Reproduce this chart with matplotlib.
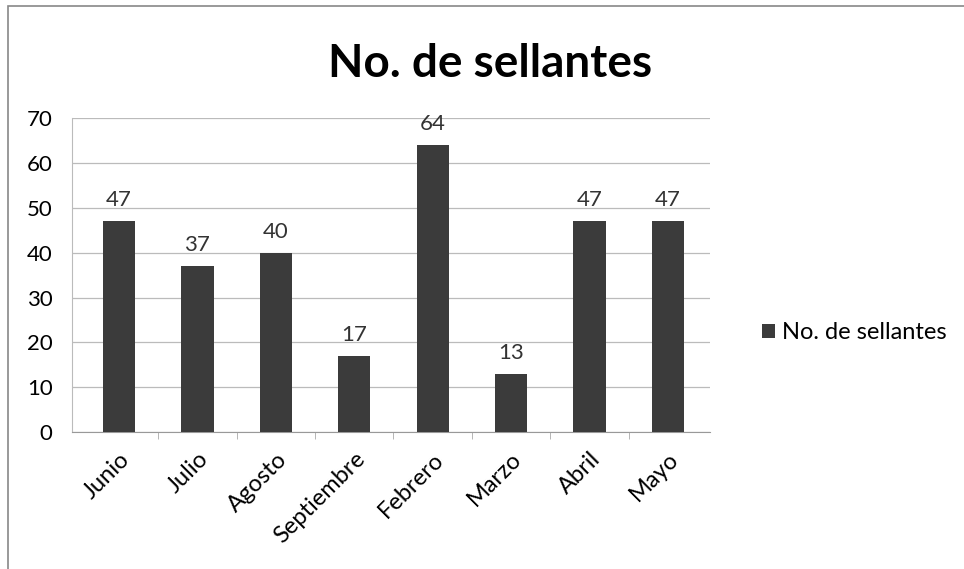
import numpy as np
import matplotlib.pyplot as plt
from matplotlib.patches import Rectangle

meses = ['Junio', 'Julio', 'Agosto', 'Septiembre', 'Febrero', 'Marzo', 'Abril', 'Mayo']
sellantes = [47, 37, 40, 17, 64, 13, 47, 47]
y_ticks = [0, 10, 20, 30, 40, 50, 60, 70]

plt.rcParams['font.family'] = ['Lato', 'DejaVu Sans']

fig = plt.figure(figsize=(9.64, 5.69), dpi=100)
ax = fig.add_axes([0.0747, 0.241, 0.662, 0.551])

x = np.arange(len(meses))
bars = ax.bar(x, sellantes, width=0.41, color='#3b3b3b', label='No. de sellantes', zorder=3)

for xi, v in zip(x, sellantes):
    ax.annotate(str(v), (xi, v), xytext=(0, 8), textcoords='offset points',
                ha='center', va='bottom', fontsize=16, color='#333333')

ax.set_xlim(-0.6, len(meses) - 0.46)
ax.set_ylim(0, 70)
ax.set_yticks(y_ticks)
ax.tick_params(axis='y', length=0, labelsize=16, pad=14)
ax.set_xticks(x)
ax.set_xticklabels(meses, rotation=45, ha='right', rotation_mode='anchor', fontsize=17)
ax.tick_params(axis='x', length=0, pad=12)
ax.set_xticks(np.arange(0.5, len(meses) - 0.5), minor=True)
ax.tick_params(axis='x', which='minor', length=5, color='#aaaaaa')

ax.grid(axis='y', color='#bbbbbb', linewidth=0.9, zorder=0)
for s in ['top', 'right']:
    ax.spines[s].set_visible(False)
ax.spines['left'].set_color('#bbbbbb')
ax.spines['bottom'].set_color('#999999')

fig.text(0.508, 0.887, 'No. de sellantes', fontsize=33, fontweight='bold',
         ha='center', va='center')

fig.legend(handles=[bars], labels=['No. de sellantes'], loc='center left',
           bbox_to_anchor=(0.768, 0.415), frameon=False, fontsize=17,
           handlelength=0.55, handleheight=0.55, handletextpad=0.3)

fig.patches.append(Rectangle((0.008, -0.01), 1.1, 1.0, transform=fig.transFigure,
                             fill=False, edgecolor='#888888', linewidth=1.2))

plt.savefig('out.png', dpi=100)
